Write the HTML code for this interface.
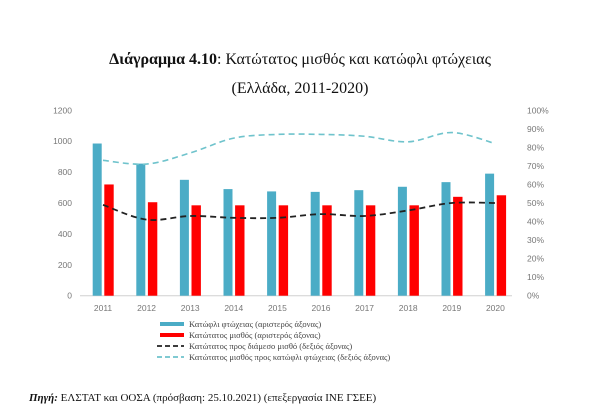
<!DOCTYPE html>
<html><head><meta charset="utf-8"><style>
body{margin:0;background:#fff;width:600px;height:415px;overflow:hidden;font-family:"Liberation Serif","DejaVu Serif",serif}
</style></head><body>
<svg width="600" height="415" viewBox="0 0 600 415">
<text x="300" y="64" text-anchor="middle" font-size="16" fill="#111"><tspan font-weight="bold">Διάγραμμα 4.10</tspan>: Κατώτατος μισθός και κατώφλι φτώχειας</text>
<text x="300" y="93" text-anchor="middle" font-size="16" fill="#111">(Ελλάδα, 2011-2020)</text>
<g id="plot"></g>
<g id="legend" font-size="8.5" fill="#444"></g>
<text x="29" y="401" font-size="11" fill="#111"><tspan font-weight="bold" font-style="italic">Πηγή:</tspan> ΕΛΣΤΑΤ και ΟΟΣΑ (πρόσβαση: 25.10.2021) (επεξεργασία ΙΝΕ ΓΣΕΕ)</text>
</svg>
<script>
const years=["2011","2012","2013","2014","2015","2016","2017","2018","2019","2020"];
const poverty=[985,855,750,690,675,672,683,705,735,790];
const minWage=[720,605,585,585,585,585,585,585,640,650];
const ratioMedian=[49,41,43,42,42,44,43,46,50,50];
const ratioPoverty=[73,71,77,85,87,87,86,83,88,82];
const leftTicks=[0,200,400,600,800,1000,1200];
const rightTicks=[0,10,20,30,40,50,60,70,80,90,100];
const NS="http://www.w3.org/2000/svg";
const g=document.getElementById('plot');
const y0=295.7,yTop=110.3;
const yL=v=>y0-(v/1200)*(y0-yTop);
const yR=v=>y0-(v/100)*(y0-yTop);
const xC=i=>103+i*43.6;
function mk(t,a){const e=document.createElementNS(NS,t);for(const k in a)e.setAttribute(k,a[k]);g.appendChild(e);return e;}
let ax=mk('line',{x1:80,x2:512,y1:y0,y2:y0,stroke:'#d0d0d0'});


leftTicks.forEach(v=>{const t=mk('text',{x:72,y:yL(v)+3,'text-anchor':'end','font-size':8.5,fill:'#777','font-family':'Liberation Sans,sans-serif'});t.textContent=v;

});
rightTicks.forEach(v=>{const t=mk('text',{x:527,y:yR(v)+3,'font-size':8.5,fill:'#777','font-family':'Liberation Sans,sans-serif'});t.textContent=v+'%';

});
years.forEach((yr,i)=>{
const b=mk('rect',{x:xC(i)-10.3,y:yL(poverty[i]),width:9,height:y0-yL(poverty[i]),fill:'#4bacc6'});


const r=mk('rect',{x:xC(i)+1.3,y:yL(minWage[i]),width:9.4,height:y0-yL(minWage[i]),fill:'#ff0000'});


const t=mk('text',{x:xC(i),y:311,'text-anchor':'middle','font-size':8.5,fill:'#777','font-family':'Liberation Sans,sans-serif'});t.textContent=yr;


});
function smooth(vals){let pts=vals.map((v,i)=>[xC(i),yR(v)]);let d='M'+pts[0];for(let i=0;i<pts.length-1;i++){const p0=pts[i-1]||pts[i],p1=pts[i],p2=pts[i+1],p3=pts[i+2]||p2;const c1=[p1[0]+(p2[0]-p0[0])/6,p1[1]+(p2[1]-p0[1])/6],c2=[p2[0]-(p3[0]-p1[0])/6,p2[1]-(p3[1]-p1[1])/6];d+=' C'+c1+' '+c2+' '+p2;}return d;}
const l1=mk('path',{d:smooth(ratioMedian),fill:'none',stroke:'#222','stroke-width':1.8,'stroke-dasharray':'6,4'});


const l2=mk('path',{d:smooth(ratioPoverty),fill:'none',stroke:'#6fc3cc','stroke-width':1.6,'stroke-dasharray':'6,4'});


const lg=document.getElementById('legend');
const items=[["Κατώφλι φτώχειας (αριστερός άξονας)","#4bacc6",0],["Κατώτατος μισθός (αριστερός άξονας)","#ff0000",0],["Κατώτατος προς διάμεσο μισθό (δεξιός άξονας)","#222",1],["Κατώτατος μισθός προς κατώφλι φτώχειας (δεξιός άξονας)","#6fc3cc",1]];
items.forEach((it,i)=>{const y=324+i*11;
const ln=document.createElementNS(NS,'line');
ln.setAttribute('x1',i<2?160:157);ln.setAttribute('x2',184);ln.setAttribute('y1',y);ln.setAttribute('y2',y);ln.setAttribute('stroke',it[1]);ln.setAttribute('stroke-width',it[2]?1.8:4);if(it[2])ln.setAttribute('stroke-dasharray','5,3');


lg.appendChild(ln);
const t=document.createElementNS(NS,'text');t.setAttribute('x',189);t.setAttribute('y',y+3);t.textContent=it[0];


lg.appendChild(t);});
</script>
</body></html>
